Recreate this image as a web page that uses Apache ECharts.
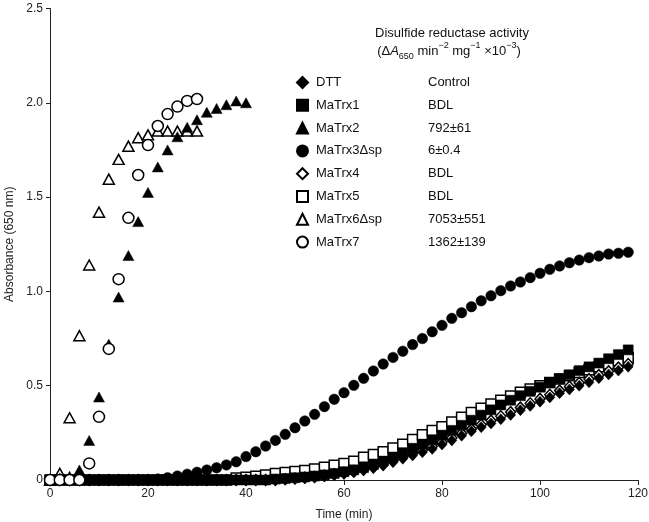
<!DOCTYPE html>
<html><head><meta charset="utf-8">
<script src="https://cdn.jsdelivr.net/npm/echarts@6/dist/echarts.min.js"></script>
<style>html,body{margin:0;padding:0;background:#fff}#c{width:649px;height:522px}</style>
</head><body><div id="c"></div><script>
const FONT = "'Liberation Sans', Arial, Helvetica, sans-serif";
const xTicks = [0, 20, 40, 60, 80, 100, 120];
const yTicks = [0, 0.5, 1.0, 1.5, 2.0, 2.5];

const timeFull = [0,2,4,6,8,10,12,14,16,18,20,22,24,26,28,30,32,34,36,38,40,42,44,46,48,50,52,54,56,58,60,62,64,66,68,70,72,74,76,78,80,82,84,86,88,90,92,94,96,98,100,102,104,106,108,110,112,114,116,118];
const time40 = [0,2,4,6,8,10,12,14,16,18,20,22,24,26,28,30,32,34,36,38,40];
const time30 = [0,2,4,6,8,10,12,14,16,18,20,22,24,26,28,30];

const dtt = [0,0,0,0,0,0,0,0,0,0,0,0,0,0,0,0,0,0,0,0,0,0,0,0,
  0.003,0.006,0.01,0.014,0.019,0.025,0.032,0.04,0.05,0.062,0.076,0.094,0.113,0.13,0.147,0.165,0.188,0.21,0.235,0.258,0.28,0.30,0.322,0.345,0.37,0.393,0.415,0.438,0.46,0.48,0.5,0.518,0.54,0.56,0.58,0.60];
const matrx1 = [0,0,0,0,0,0,0,0,0,0,0,0,0,0,0,0,0,0,0,0,0,0,0,
  0.005,0.008,0.012,0.016,0.021,0.027,0.035,0.044,0.054,0.066,0.082,0.1,0.122,0.145,0.168,0.19,0.213,0.238,0.263,0.29,0.317,0.344,0.372,0.398,0.423,0.447,0.47,0.492,0.515,0.537,0.558,0.58,0.6,0.62,0.643,0.665,0.69];
const matrx2 = [0,0.01,0.02,0.053,0.21,0.44,0.72,0.97,1.19,1.37,1.525,1.66,1.75,1.82,1.87,1.91,1.95,1.97,1.99,2.01,2.0];
const matrx3 = [0,0,0,0,0,0,0,0,0,0,0,
  0.005,0.012,0.021,0.031,0.041,0.053,0.065,0.08,0.097,0.124,0.15,0.18,0.21,0.242,0.277,0.313,0.348,0.389,0.428,0.463,0.502,0.539,0.578,0.615,0.65,0.683,0.718,0.75,0.786,0.82,0.857,0.887,0.919,0.95,0.977,1.004,1.029,1.05,1.073,1.096,1.117,1.135,1.152,1.166,1.179,1.188,1.198,1.202,1.208];
const matrx4 = [0,0,0,0,0,0,0,0,0,0,0,0,0,0,0,0,0,0,0,0,0,0,0,0,
  0.004,0.008,0.012,0.017,0.023,0.03,0.038,0.047,0.058,0.07,0.085,0.103,0.122,0.14,0.158,0.178,0.2,0.223,0.247,0.27,0.293,0.315,0.338,0.36,0.384,0.407,0.43,0.452,0.474,0.495,0.515,0.535,0.556,0.576,0.596,0.615];
const matrx5 = [0,0,0,0,0,0,0,0,0,0,0,0,0,0,0,0,0,0,0,
  0.01,0.015,0.02,0.027,0.035,0.04,0.045,0.05,0.058,0.068,0.078,0.088,0.1,0.12,0.135,0.15,0.17,0.19,0.215,0.24,0.262,0.283,0.308,0.333,0.358,0.38,0.403,0.423,0.445,0.465,0.483,0.5,0.517,0.535,0.553,0.57,0.585,0.6,0.615,0.632,0.65];
const matrx6 = [0,0.035,0.33,0.765,1.14,1.42,1.595,1.70,1.77,1.815,1.83,1.85,1.85,1.85,1.85,1.85];
const matrx7 = [0,0,0,0,0.088,0.335,0.695,1.065,1.39,1.617,1.776,1.877,1.94,1.98,2.01,2.02];

const legendNames = ['DTT','MaTrx1','MaTrx2','MaTrx3Δsp','MaTrx4','MaTrx5','MaTrx6Δsp','MaTrx7'];
const activity = ['Control','BDL','792±61','6±0.4','BDL','BDL','7053±551','1362±139'];

const pairs = (t, v) => t.map((x, i) => [x, v[i]]);
const filled = {color:'#000', borderColor:'#000', borderWidth:0.5, opacity:1};
const open = {color:'#fff', borderColor:'#000', borderWidth:1.5, opacity:1};

function sc(name, t, v, symbol, size, style) {
  return {name, type:'scatter', data:pairs(t, v), symbol, symbolSize:size,
    itemStyle:style, emphasis:{disabled:true}, silent:true};
}

// drawing order (bottom -> top)
const series = [
  sc('MaTrx5', timeFull, matrx5, 'rect', 10, open),
  sc('MaTrx4', timeFull, matrx4, 'diamond', [10,11], open),
  sc('DTT', timeFull, dtt, 'diamond', [10,11], filled),
  sc('MaTrx1', timeFull, matrx1, 'rect', 10, filled),
  sc('MaTrx3Δsp', timeFull, matrx3, 'circle', 10.5, filled),
  sc('MaTrx6Δsp', time30, matrx6, 'triangle', [11,10], open),
  sc('MaTrx2', time40, matrx2, 'triangle', [11,10], filled),
  sc('MaTrx7', time30, matrx7, 'circle', 11, open)
];

const actMap = {};
legendNames.forEach((n, i) => actMap[n] = activity[i]);

const chart = echarts.init(document.getElementById('c'), null, {renderer:'canvas'});
chart.setOption({
  animation:false,
  backgroundColor:'#fff',
  grid:{left:50, right:11, top:8.5, bottom:42, outerBoundsMode:'none'},
  xAxis:{type:'value', min:0, max:120, interval:20,
    name:'Time (min)', nameLocation:'middle', nameGap:29,
    nameTextStyle:{fontFamily:FONT, fontSize:12, color:'#222'},
    axisLine:{show:true, onZero:false, lineStyle:{color:'#222', width:1}},
    axisTick:{show:true, length:5, lineStyle:{color:'#222'}},
    splitLine:{show:false},
    axisLabel:{fontFamily:FONT, fontSize:12, color:'#222', margin:8,
      customValues: xTicks, formatter:v => String(v)}},
  yAxis:{type:'value', min:0, max:2.5, interval:0.5,
    name:'Absorbance (650 nm)', nameLocation:'middle', nameGap:31,
    nameTextStyle:{fontFamily:FONT, fontSize:12, color:'#222'},
    axisLine:{show:true, onZero:false, lineStyle:{color:'#222', width:1}},
    axisTick:{show:true, length:4, lineStyle:{color:'#222'}},
    splitLine:{show:false},
    axisLabel:{fontFamily:FONT, fontSize:12, color:'#222', margin:7,
      formatter:v => { const k = yTicks.find(t => Math.abs(t - v) < 1e-9); return (k === 0) ? '0' : (k !== undefined ? k.toFixed(1) : ''); }}},
  legend:{orient:'vertical', left:291, top:71, itemWidth:11, itemHeight:11, itemGap:9.8,
    selectedMode:false, data:legendNames,
    formatter: n => `{n|${n}}{v|${actMap[n]}}`,
    textStyle:{fontFamily:FONT, fontSize:13, color:'#111',
      rich:{n:{fontFamily:FONT, fontSize:13, color:'#111', width:112, padding:[0,0,0,3], lineHeight:14},
            v:{fontFamily:FONT, fontSize:13, color:'#111', lineHeight:14}}}},
  graphic:[
    {type:'text', silent:true, style:{x:452, y:33, text:'Disulfide reductase activity',
      align:'center', verticalAlign:'middle', fontFamily:FONT, fontSize:13, fill:'#111'}},
    {type:'text', silent:true, style:{x:449, y:51,
      text:'{m|(Δ}{i|A}{sub|650}{m| min}{sup|−2}{m| mg}{sup|−1}{m| ×10}{sup|−3}{m|)}',
      align:'center', verticalAlign:'middle', fontFamily:FONT, fontSize:13, fill:'#111',
      rich:{
        m:{fontFamily:FONT, fontSize:13, lineHeight:20, verticalAlign:'middle', fill:'#111'},
        i:{fontFamily:FONT, fontSize:13, fontStyle:'italic', lineHeight:20, verticalAlign:'middle', fill:'#111'},
        sub:{fontFamily:FONT, fontSize:9, lineHeight:12, verticalAlign:'bottom', fill:'#111'},
        sup:{fontFamily:FONT, fontSize:9, lineHeight:12, verticalAlign:'top', fill:'#111'}
      }}}
  ],
  series
});
</script></body></html>
